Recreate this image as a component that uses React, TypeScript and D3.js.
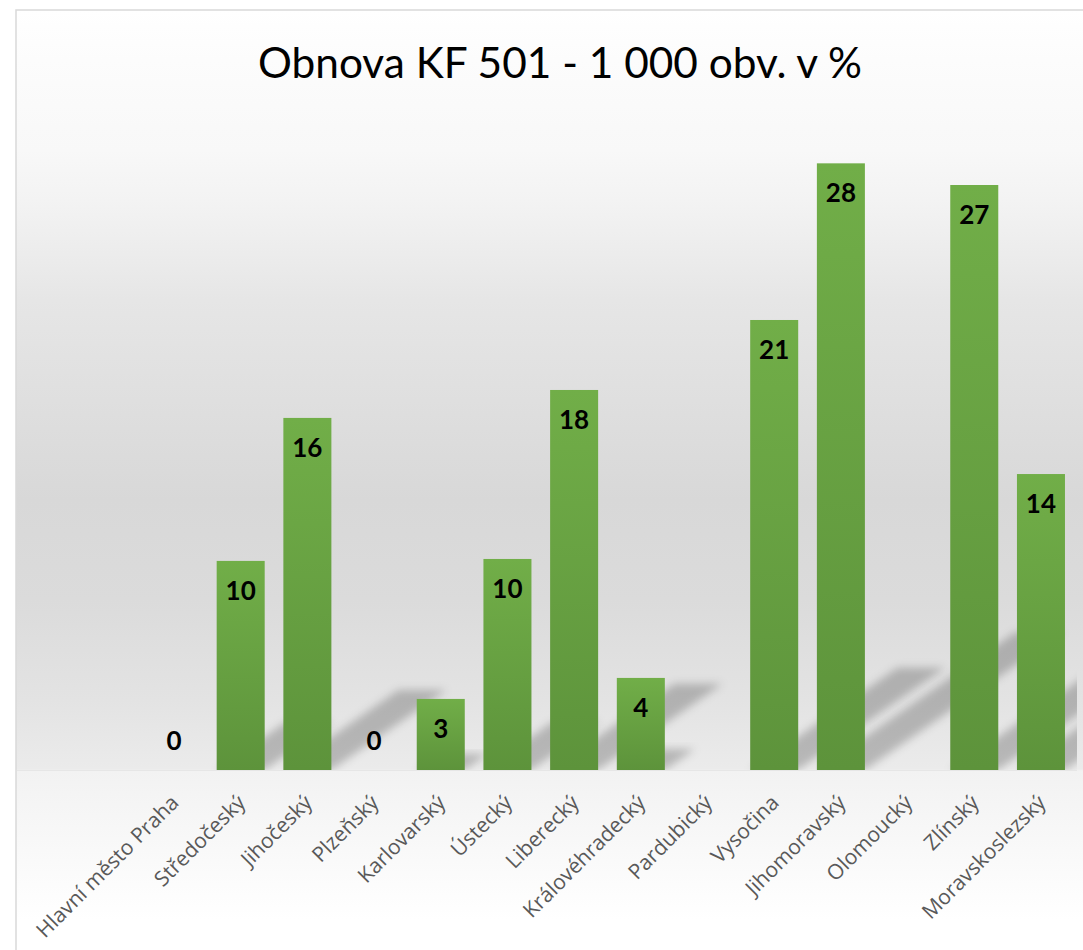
import React from "react";
import * as d3 from "d3";

const categories: string[] = [
  "Hlavní město Praha",
  "Středočeský",
  "Jihočeský",
  "Plzeňský",
  "Karlovarský",
  "Ústecký",
  "Liberecký",
  "Královéhradecký",
  "Pardubický",
  "Vysočina",
  "Jihomoravský",
  "Olomoucký",
  "Zlínský",
  "Moravskoslezský",
];

const values: (number | null)[] = [
  0, 9.65, 16.25, 0, 3.28, 9.74, 17.54, 4.25, null, 20.77, 28.0, null, 27.0, 13.66,
];

const yTicks: number[] = [0, 30];
const title = "Obnova KF 501 - 1 000 obv. v %";

const W = 1083;
const H = 950;
const chartLeft = 16;
const chartTop = 10;
const plotLeft = 140.65;
const plotRight = 1074.3;
const baseY = 770;
const topY = 120;

export default function App() {
  const x = d3
    .scaleBand<string>()
    .domain(categories)
    .range([plotLeft, plotRight])
    .paddingInner(0.28)
    .paddingOuter(0.14);
  const y = d3.scaleLinear().domain([yTicks[0], yTicks[1]]).range([baseY, topY]);
  const fmt = d3.format(".0f");
  const bw = x.bandwidth();

  const shadowR = 0.227;
  const shadowS = 0.327;

  const off = (yy: number) => (yy - chartTop) / (H - chartTop);
  const bgStops: [number, string][] = [
    [10, "#ffffff"],
    [60, "#fcfcfc"],
    [150, "#f8f8f8"],
    [200, "#f3f3f3"],
    [300, "#e6e6e6"],
    [500, "#d8d8d8"],
    [600, "#dbdbdb"],
    [700, "#e3e3e3"],
    [769, "#ebebeb"],
    [771, "#f2f2f2"],
    [850, "#f9f9f9"],
    [920, "#ffffff"],
    [950, "#ffffff"],
  ];

  return (
    <svg
      width={W}
      height={H}
      style={{ position: "absolute", left: 0, top: 0 }}
      xmlns="http://www.w3.org/2000/svg"
    >
      <defs>
        <linearGradient
          id="bg"
          gradientUnits="userSpaceOnUse"
          x1={0}
          y1={chartTop}
          x2={0}
          y2={H}
        >
          {bgStops.map(([yy, c], i) => (
            <stop key={i} offset={off(yy)} stopColor={c} />
          ))}
        </linearGradient>
        <linearGradient id="bar" x1={0} y1={0} x2={0} y2={1}>
          <stop offset={0} stopColor="#71ae48" />
          <stop offset={1} stopColor="#5d933b" />
        </linearGradient>
        <filter id="blur" x="-30%" y="-30%" width="160%" height="160%">
          <feGaussianBlur stdDeviation={4.5} />
        </filter>
        <clipPath id="plotClip">
          <rect x={chartLeft + 1} y={chartTop} width={1077 - chartLeft - 1} height={baseY - chartTop} />
        </clipPath>
      </defs>

      <rect
        x={chartLeft}
        y={chartTop}
        width={W - chartLeft + 10}
        height={H - chartTop + 10}
        fill="url(#bg)"
        stroke="#d9d9d9"
        strokeWidth={1.5}
      />

      <text
        x={560}
        y={78}
        textAnchor="middle"
        fontFamily="Lato, sans-serif"
        fontSize={42}
        textLength={604}
        lengthAdjust="spacingAndGlyphs"
        fill="#000000"
      >
        {title}
      </text>

      <g clipPath="url(#plotClip)">
        {categories.map((c, i) => {
          const v = values[i];
          if (v === null || v === 0) return null;
          const x0 = x(c)!;
          const x1 = x0 + bw;
          const h = baseY - y(v);
          const dx = shadowS * h;
          const dy = shadowR * h;
          const pts = [
            [x0, baseY],
            [x1, baseY],
            [x1 + dx, baseY - dy],
            [x0 + dx, baseY - dy],
          ]
            .map((p) => p.join(","))
            .join(" ");
          return (
            <polygon key={c} points={pts} fill="#000000" fillOpacity={0.22} filter="url(#blur)" />
          );
        })}
      </g>

      <line x1={chartLeft + 1} x2={1077} y1={baseY + 0.5} y2={baseY + 0.5} stroke="#e6e6e6" strokeWidth={1} />

      {categories.map((c, i) => {
        const v = values[i];
        if (v === null || v === 0) return null;
        return (
          <rect
            key={c}
            x={x(c)}
            y={y(v)}
            width={bw}
            height={baseY - y(v)}
            fill="url(#bar)"
          />
        );
      })}

      {categories.map((c, i) => {
        const v = values[i];
        if (v === null) return null;
        const cx = x(c)! + bw / 2;
        const ty = v === 0 ? baseY - 20 : y(v) + 39;
        return (
          <text
            key={c}
            x={cx}
            y={ty}
            textAnchor="middle"
            fontFamily="Lato, sans-serif"
            fontWeight="bold"
            fontSize={26}
            fill="#000000"
          >
            {fmt(v)}
          </text>
        );
      })}

      {categories.map((c) => {
        const cx = x(c)! + bw / 2;
        return (
          <text
            key={c}
            transform={`translate(${cx + 6},${baseY + 34}) rotate(-45)`}
            textAnchor="end"
            fontFamily="Open Sans, sans-serif"
            fontSize={21}
            fill="#595959"
          >
            {c}
          </text>
        );
      })}
    </svg>
  );
}
